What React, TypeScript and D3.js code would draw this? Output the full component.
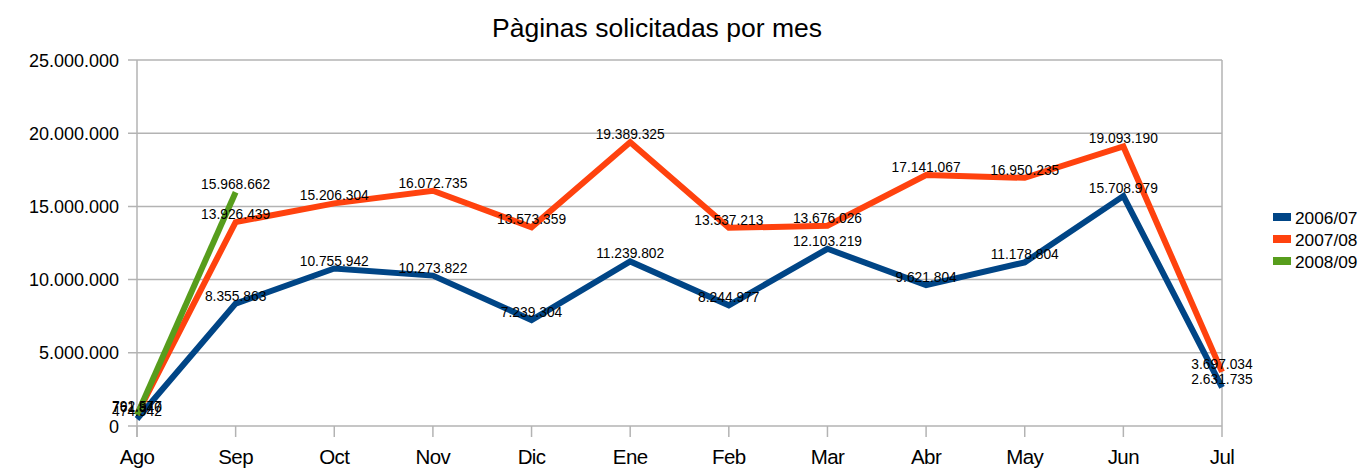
import { useEffect, useRef } from "react";
import * as d3 from "d3";

const months = ["Ago", "Sep", "Oct", "Nov", "Dic", "Ene", "Feb", "Mar", "Abr", "May", "Jun", "Jul"];
const s0607 = [474942, 8355863, 10755942, 10273822, 7239304, 11239802, 8244977, 12103219, 9621804, 11178804, 15708979, 2631735];
const s0708 = [792577, 13926439, 15206304, 16072735, 13573359, 19389325, 13537213, 13676026, 17141067, 16950235, 19093190, 3697034];
const s0809 = [761940, 15968662];
const yTicks = [0, 5000000, 10000000, 15000000, 20000000, 25000000];

const seriesList = [
  { name: "2006/07", color: "#004586", values: s0607 },
  { name: "2007/08", color: "#ff420e", values: s0708 },
  { name: "2008/09", color: "#579d1c", values: s0809 },
];

const fmt = (v: number) => d3.format(",")(v).replace(/,/g, ".");

export default function App() {
  const ref = useRef<SVGSVGElement>(null);

  useEffect(() => {
    const svg = d3.select(ref.current);
    svg.selectAll("*").remove();
    const font = "'Liberation Sans', Arial, sans-serif";

    const x = d3.scalePoint().domain(months).range([137, 1222]);
    const y = d3.scaleLinear().domain([0, 25000000]).range([426, 60]);

    // grid
    const grid = svg.append("g");
    grid.selectAll("line.h").data(yTicks).join("line")
      .attr("x1", 128).attr("x2", 1222)
      .attr("y1", (d) => y(d)).attr("y2", (d) => y(d))
      .attr("stroke", "#b3b3b3").attr("stroke-width", 1.5);
    grid.append("line").attr("x1", 137).attr("x2", 137).attr("y1", 60).attr("y2", 437)
      .attr("stroke", "#b3b3b3").attr("stroke-width", 1.5);
    grid.append("line").attr("x1", 1222).attr("x2", 1222).attr("y1", 60).attr("y2", 426)
      .attr("stroke", "#b3b3b3").attr("stroke-width", 1.5);
    grid.selectAll("line.xt").data(months).join("line")
      .attr("x1", (d) => x(d)!).attr("x2", (d) => x(d)!)
      .attr("y1", 426).attr("y2", 437)
      .attr("stroke", "#b3b3b3").attr("stroke-width", 1.5);

    // y labels
    svg.append("g").selectAll("text").data(yTicks).join("text")
      .attr("x", 119).attr("y", (d) => y(d) + 6.5)
      .attr("text-anchor", "end").attr("font-family", font).attr("font-size", 18)
      .attr("fill", "#000").text((d) => fmt(d));

    // x labels
    svg.append("g").selectAll("text").data(months).join("text")
      .attr("x", (d) => x(d)!).attr("y", 464)
      .attr("text-anchor", "middle").attr("font-family", font).attr("font-size", 20.5)
      .attr("letter-spacing", -0.6)
      .attr("fill", "#000").text((d) => d);

    const line = d3.line<number>().x((_, i) => x(months[i])!).y((d) => y(d));

    seriesList.forEach((s) => {
      svg.append("path").attr("d", line(s.values))
        .attr("fill", "none").attr("stroke", s.color).attr("stroke-width", 6)
        .attr("stroke-linejoin", "miter");
    });

    seriesList.forEach((s) => {
      svg.append("g").selectAll("text").data(s.values).join("text")
        .attr("x", (_, i) => x(months[i])!).attr("y", (d) => y(d) - 3)
        .attr("text-anchor", "middle").attr("font-family", font).attr("font-size", 13.8)
        .attr("fill", "#000").text((d) => fmt(d));
    });

    // title
    svg.append("text").attr("x", 657).attr("y", 37).attr("text-anchor", "middle")
      .attr("font-family", font).attr("font-size", 26.5).attr("fill", "#000")
      .text("Pàginas solicitadas por mes");

    // legend
    const lg = svg.append("g");
    seriesList.forEach((s, i) => {
      lg.append("rect").attr("x", 1273).attr("y", 213 + i * 22).attr("width", 18).attr("height", 8)
        .attr("fill", s.color);
      lg.append("text").attr("x", 1295).attr("y", 223.5 + i * 22)
        .attr("font-family", font).attr("font-size", 17.3).attr("fill", "#000").text(s.name);
    });
  }, []);

  return (
    <svg ref={ref} width={1360} height={469} style={{ position: "absolute", left: 0, top: 0, background: "#fff" }} />
  );
}
